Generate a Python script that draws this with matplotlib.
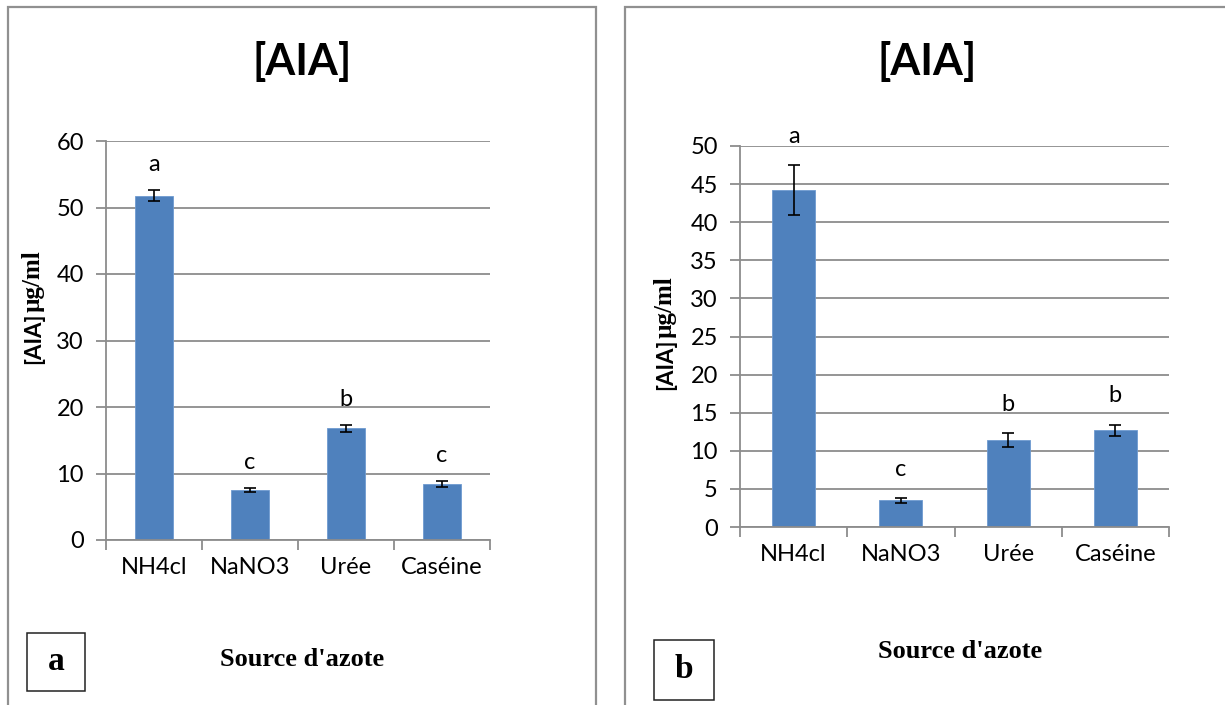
import matplotlib
matplotlib.use("Agg")
import matplotlib.pyplot as plt
from matplotlib.patches import Rectangle

W, H = 1225, 705

categories = ["NH4cl", "NaNO3", "Urée", "Caséine"]

# panel a
aia_a = [51.8, 7.5, 16.8, 8.4]
err_a = [0.8, 0.3, 0.5, 0.45]
letters_a = ["a", "c", "b", "c"]
yticks_a = [0, 10, 20, 30, 40, 50, 60]

# panel b
aia_b = [44.2, 3.5, 11.4, 12.7]
err_b = [3.25, 0.3, 0.95, 0.75]
letters_b = ["a", "c", "b", "b"]
yticks_b = [0, 5, 10, 15, 20, 25, 30, 35, 40, 45, 50]

SANS = "Lato"
SERIF = "Liberation Serif"
BLUE = "#4F81BD"
GRAY = "#8c8c8c"


def fx(x):
    return x / W


def fy(y):
    return 1 - y / H


def draw_panel(fig, box, values, errs, letters, yticks, letter_off):
    left, top, right, bottom = box
    ax = fig.add_axes([fx(left), fy(bottom), (right - left) / W, (bottom - top) / H])
    x = list(range(len(categories)))
    ax.bar(x, values, width=0.4, color=BLUE, edgecolor="#6f9bd0", linewidth=0.6, zorder=2)
    ax.errorbar(x, values, yerr=errs, fmt="none", ecolor="black",
                elinewidth=1.2, capsize=4, capthick=1.2, zorder=3)

    for xi, v, e, lab in zip(x, values, errs, letters):
        ax.annotate(lab, (xi, v + e), xytext=(0, letter_off), textcoords="offset points",
                    ha="center", va="baseline", fontsize=17, family=SANS,
                    annotation_clip=False)

    ax.set_xlim(-0.5, len(categories) - 0.5)
    ax.set_ylim(yticks[0], yticks[-1])
    ax.set_yticks(yticks)
    ax.set_yticklabels([str(t) for t in yticks], family=SANS, fontsize=17)

    ax.set_xticks([i - 0.5 for i in range(len(categories) + 1)])
    ax.set_xticklabels([])
    ax.set_xticks(x, minor=True)
    ax.set_xticklabels(categories, minor=True, family=SANS, fontsize=17)

    ax.tick_params(axis="y", direction="out", length=7, width=1.3, color=GRAY, pad=9)
    ax.tick_params(axis="x", which="major", direction="out", length=7, width=1.3, color=GRAY)
    ax.tick_params(axis="x", which="minor", length=0, pad=12)

    ax.yaxis.grid(True, color=GRAY, linewidth=1.3)
    ax.set_axisbelow(True)
    for s in ["top", "right"]:
        ax.spines[s].set_visible(False)
    for s in ["left", "bottom"]:
        ax.spines[s].set_color(GRAY)
        ax.spines[s].set_linewidth(1.3)
    return ax


def ylabel(fig, ax, xb, ybottom):
    # bracket part in sans, unit part in serif, as in the original
    t1 = fig.text(fx(xb), fy(ybottom), "[AIA]", rotation=90, rotation_mode="anchor",
                  ha="left", va="baseline", fontsize=16, fontweight="bold", family=SANS)
    ax.annotate("µg/ml", xy=(xb, 1.0), xycoords=("figure pixels", t1),
                rotation=90, rotation_mode="anchor", ha="left", va="baseline",
                fontsize=18, fontweight="bold", family=SERIF, annotation_clip=False)


fig = plt.figure(figsize=(W / 100, H / 100), dpi=100)

# panel frames
fig.add_artist(Rectangle((fx(8), fy(730)), (596 - 8) / W, (730 - 7) / H,
                         transform=fig.transFigure, fill=False, ec="#909090", lw=1.6))
fig.add_artist(Rectangle((fx(625), fy(730)), (1240 - 625) / W, (730 - 7) / H,
                         transform=fig.transFigure, fill=False, ec="#909090", lw=1.6))

ax_a = draw_panel(fig, (106, 141, 490, 540), aia_a, err_a, letters_a, yticks_a, 14)
ax_b = draw_panel(fig, (740, 146, 1169, 527), aia_b, err_b, letters_b, yticks_b, 16)

# titles
fig.text(fx(302), fy(62), "[AIA]", ha="center", va="center", fontsize=31,
         fontweight="bold", family=SANS)
fig.text(fx(927), fy(62), "[AIA]", ha="center", va="center", fontsize=31,
         fontweight="bold", family=SANS)

ylabel(fig, ax_a, 40, 364)
ylabel(fig, ax_b, 672, 390)

# x axis titles
fig.text(fx(302), fy(660), "Source d'azote", ha="center", va="center", fontsize=19,
         fontweight="bold", family=SERIF)
fig.text(fx(960), fy(652), "Source d'azote", ha="center", va="center", fontsize=19,
         fontweight="bold", family=SERIF)

# panel letters in boxes
for (x0, y0, x1, y1), lab in [((27, 633, 85, 691), "a"), ((654, 640, 714, 700), "b")]:
    fig.add_artist(Rectangle((fx(x0), fy(y1)), (x1 - x0) / W, (y1 - y0) / H,
                             transform=fig.transFigure, fill=False, ec="#222222", lw=1.1))
    fig.text(fx((x0 + x1) / 2), fy((y0 + y1) / 2), lab, ha="center", va="center",
             fontsize=24, fontweight="bold", family=SERIF)

fig.savefig("out.png", dpi=100)
